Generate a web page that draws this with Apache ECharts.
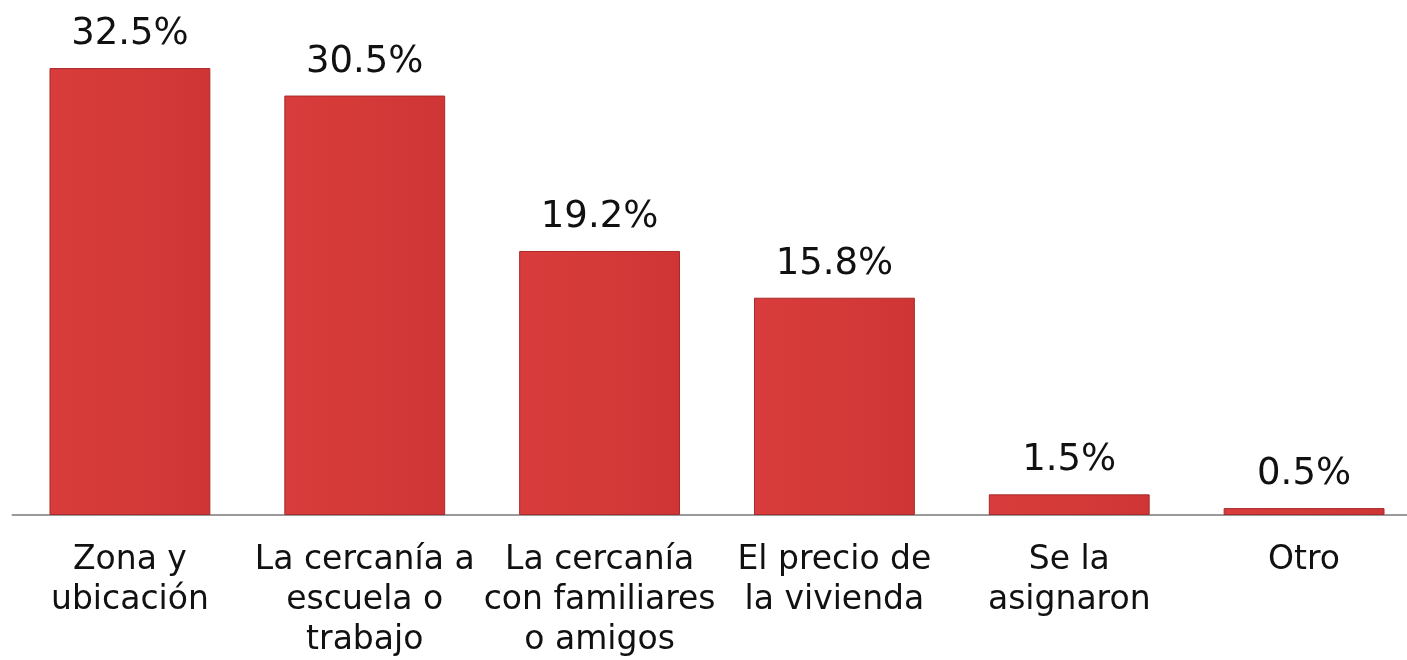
<!DOCTYPE html>
<html>
<head>
<meta charset="utf-8">
<script src="https://cdn.jsdelivr.net/npm/echarts@6/dist/echarts.min.js"></script>
<style>
  html, body { margin: 0; padding: 0; background: #fff; overflow: hidden; }
  #barChart { width: 1407px; height: 660px; }
</style>
</head>
<body>
<div id="barChart"></div>
<script>
const categories = [
  "Zona y\nubicación",
  "La cercanía a\nescuela o\ntrabajo",
  "La cercanía\ncon familiares\no amigos",
  "El precio de\nla vivienda",
  "Se la\nasignaron",
  "Otro"
];
const values = [32.5, 30.5, 19.2, 15.8, 1.5, 0.5];

const chart = echarts.init(document.getElementById("barChart"));
chart.setOption({
  animation: false,
  grid: {
    top: 0,
    left: 12.5,
    width: 1409,
    bottom: 145,
    outerBoundsMode: "none"
  },
  xAxis: {
    type: "category",
    data: categories,
    axisLine: { lineStyle: { color: "#9a9a9a", width: 2 } },
    axisTick: { show: false },
    axisLabel: {
      interval: 0,
      fontFamily: "DejaVu Sans",
      fontSize: 33,
      lineHeight: 40,
      color: "#111",
      margin: 25
    }
  },
  yAxis: {
    type: "value",
    min: 0,
    max: 37.45,
    show: false,
    splitLine: { show: false }
  },
  series: [
    {
      type: "bar",
      data: values,
      barWidth: "68.5%",
      label: {
        show: true,
        position: "top",
        distance: 15,
        fontFamily: "DejaVu Sans",
        fontSize: 37,
        color: "#111",
        formatter: p => p.value.toFixed(1) + "%"
      },
      itemStyle: {
        color: new echarts.graphic.LinearGradient(0, 0, 1, 0, [
          { offset: 0, color: "#d83c3c" },
          { offset: 0.5, color: "#d43a38" },
          { offset: 1, color: "#cf3535" }
        ]),
        borderColor: "#a82a2a",
        borderWidth: 1
      }
    }
  ]
});
</script>
</body>
</html>
